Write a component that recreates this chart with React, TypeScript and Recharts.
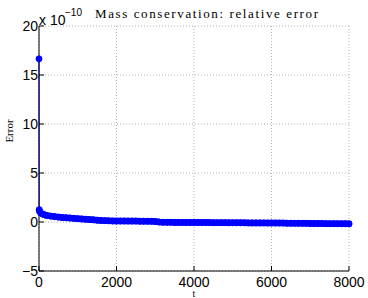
import { LineChart, Line, XAxis, YAxis, CartesianGrid } from 'recharts'

// time steps and relative mass error (units of 1e-10)
const times = [
  0, 5, 20, 50, 100, 150, 200, 300, 400, 500, 600, 700, 800, 900, 1000,
  1100, 1200, 1300, 1400, 1500, 1600, 1700, 1800, 1900, 2000,
  2100, 2200, 2300, 2400, 2500, 2600, 2700, 2800, 2900, 3000,
  3100, 3200, 3300, 3400, 3500, 3600, 3700, 3800, 3900, 4000,
  4100, 4200, 4300, 4400, 4500, 4600, 4700, 4800, 4900, 5000,
  5100, 5200, 5300, 5400, 5500, 5600, 5700, 5800, 5900, 6000,
  6100, 6200, 6300, 6400, 6500, 6600, 6700, 6800, 6900, 7000,
  7100, 7200, 7300, 7400, 7500, 7600, 7700, 7800, 7900, 8000,
]
const errors = [
  16.65, 1.25, 1.05, 0.9, 0.8, 0.72, 0.67, 0.6, 0.55, 0.5, 0.46, 0.43, 0.4, 0.37, 0.34,
  0.31, 0.28, 0.25, 0.22, 0.19, 0.16, 0.14, 0.12, 0.11, 0.1,
  0.1, 0.1, 0.09, 0.09, 0.09, 0.08, 0.08, 0.08, 0.07, 0.05,
  0.0, -0.02, -0.03, -0.03, -0.04, -0.04, -0.04, -0.05, -0.05, -0.05,
  -0.05, -0.06, -0.06, -0.06, -0.07, -0.07, -0.07, -0.07, -0.08, -0.08,
  -0.08, -0.08, -0.08, -0.09, -0.09, -0.09, -0.09, -0.09, -0.1, -0.1,
  -0.1, -0.11, -0.11, -0.12, -0.12, -0.13, -0.13, -0.14, -0.14, -0.15,
  -0.15, -0.16, -0.16, -0.17, -0.17, -0.17, -0.18, -0.18, -0.18, -0.19,
]
const xTicks = [0, 2000, 4000, 6000, 8000]
const yTicks = [-5, 0, 5, 10, 15, 20]

// the dense markers after the first step merge into a solid band
const data = times.map((t, i) => ({ t, err: errors[i], band: i === 0 ? null : errors[i] }))

const tickStyle = { fontFamily: 'Liberation Sans, Arial, sans-serif', fontSize: 14, fill: '#000' }
const fmt = (v: number) => String(v).replace('-', '\u2212')

export default function App() {
  return (
    <div style={{ position: 'absolute', left: 0, top: 0, width: 368, height: 298, background: '#fff' }}>
      <LineChart width={368} height={298} data={data} margin={{ top: 26, right: 19, left: 0, bottom: 0 }}>
        <CartesianGrid stroke="#b0b0b0" strokeDasharray="1 2" />
        <XAxis
          type="number"
          dataKey="t"
          domain={[0, 8000]}
          ticks={xTicks}
          height={27}
          stroke="#000"
          tickSize={-5}
          tickMargin={11}
          tick={tickStyle}
          interval={0}
        />
        <XAxis xAxisId="top" orientation="top" type="number" dataKey="t" domain={[0, 8000]} ticks={xTicks}
          height={0} stroke="#000" tickSize={-5} tick={false} />
        <YAxis
          type="number"
          domain={[-5, 20]}
          ticks={yTicks}
          width={39}
          stroke="#000"
          tickSize={-5}
          tickMargin={6}
          tick={tickStyle}
          tickFormatter={fmt}
          interval={0}
        />
        <YAxis yAxisId="right" orientation="right" type="number" domain={[-5, 20]} ticks={yTicks}
          width={0} stroke="#000" tickSize={-5} tick={false} />
        <Line
          type="linear"
          dataKey="band"
          stroke="#0000ff"
          strokeWidth={6.5}
          strokeLinecap="round"
          dot={false}
          activeDot={false}
          isAnimationActive={false}
        />
        <Line
          type="linear"
          dataKey="err"
          stroke="#0000ff"
          strokeWidth={1}
          dot={{ r: 3, fill: '#0000ff', stroke: '#0000ff', strokeWidth: 1 }}
          isAnimationActive={false}
        />
      </LineChart>
      <svg width={368} height={298} style={{ position: 'absolute', left: 0, top: 0, pointerEvents: 'none' }}>
        <text x={39} y={25} fontFamily="Liberation Sans, Arial, sans-serif" fontSize={14}>x 10</text>
        <text x={65} y={16} fontFamily="Liberation Sans, Arial, sans-serif" fontSize={10}>{'\u221210'}</text>
        <text x={95} y={18} fontFamily="Liberation Serif, serif" fontSize={13} textLength={223}>
          Mass conservation: relative error
        </text>
        <text x={13} y={131} fontFamily="Liberation Serif, serif" fontSize={11} textAnchor="middle"
          transform="rotate(-90 13 131)">Error</text>
        <text x={194} y={297} fontFamily="Liberation Serif, serif" fontSize={10} textAnchor="middle">t</text>
      </svg>
    </div>
  )
}
